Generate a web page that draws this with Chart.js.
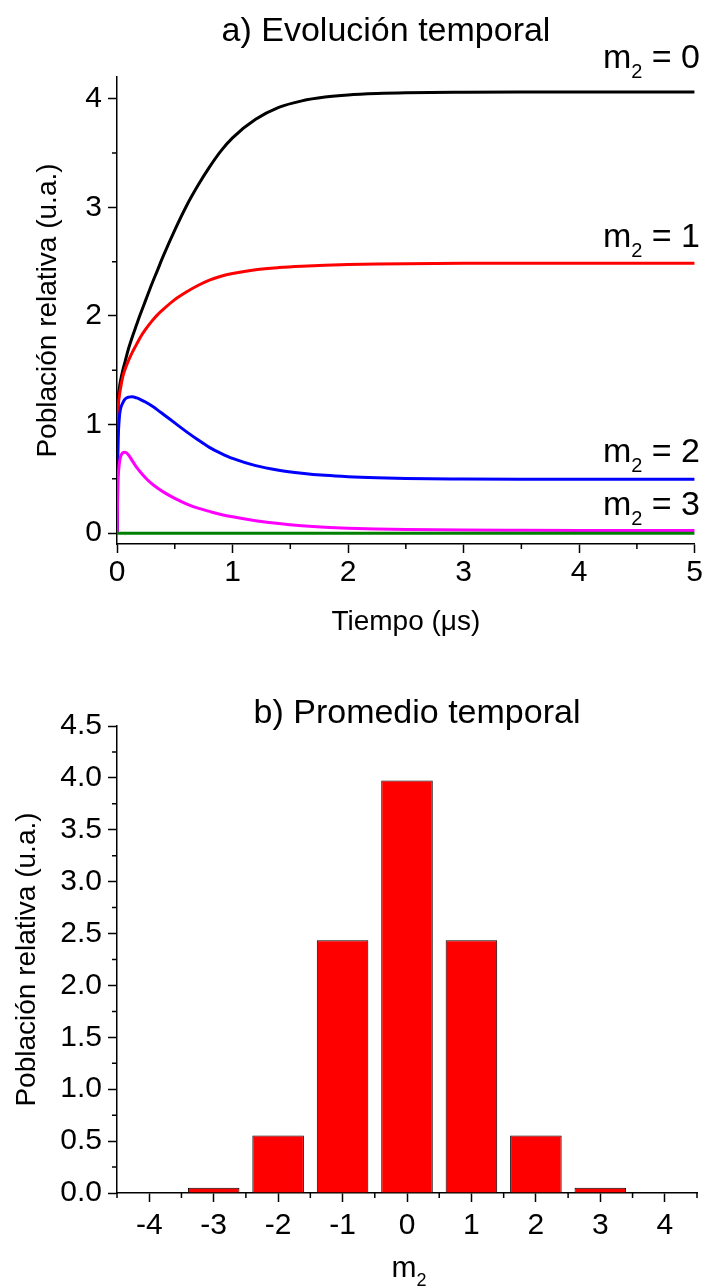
<!DOCTYPE html>
<html>
<head>
<meta charset="utf-8">
<script src="https://cdn.jsdelivr.net/npm/chart.js@4"></script>
<style>
  html, body { margin: 0; padding: 0; background: #fff; }
  #wrap { position: relative; width: 705px; height: 1288px; }
  canvas { position: absolute; left: 0; }
  #evolucion { top: 0; }
  #promedio { top: 660px; }
</style>
</head>
<body>
<div id="wrap">
  <canvas id="evolucion" width="705" height="660"></canvas>
  <canvas id="promedio" width="705" height="628"></canvas>
</div>
<script>
// --- a) evolución temporal: tiempo en µs y población de cada m2 ---
const tiempo = [0, 0.005, 0.01, 0.02, 0.03, 0.05, 0.07, 0.1, 0.13, 0.17,
                0.2, 0.25, 0.3, 0.35, 0.4, 0.5, 0.6, 0.7, 0.8, 0.9,
                1.0, 1.2, 1.4, 1.6, 1.8, 2.0, 2.25, 2.5, 3.0, 3.5,
                4.0, 4.5, 5.0];
const pobM0 = [0, 0.85, 1.2, 1.33, 1.4, 1.5, 1.58, 1.7, 1.8, 1.92,
               2.01, 2.15, 2.29, 2.42, 2.55, 2.79, 3.01, 3.2, 3.37, 3.52,
               3.64, 3.81, 3.92, 3.98, 4.015, 4.035, 4.048, 4.055, 4.06, 4.062,
               4.062, 4.062, 4.062];
const pobM1 = [0, 0.8, 1.12, 1.26, 1.33, 1.44, 1.51, 1.59, 1.66, 1.74,
               1.8, 1.88, 1.95, 2.01, 2.06, 2.15, 2.22, 2.28, 2.33, 2.365,
               2.39, 2.425, 2.445, 2.458, 2.467, 2.473, 2.478, 2.481, 2.484, 2.485,
               2.485, 2.485, 2.485];
const pobM2 = [0, 0.55, 0.85, 1.06, 1.14, 1.2, 1.235, 1.252, 1.255, 1.245,
               1.232, 1.205, 1.172, 1.135, 1.095, 1.015, 0.935, 0.86, 0.79, 0.735,
               0.688, 0.622, 0.58, 0.552, 0.532, 0.519, 0.509, 0.503, 0.499, 0.497,
               0.497, 0.497, 0.497];
const pobM3 = [0, 0.3, 0.5, 0.64, 0.7, 0.74, 0.745, 0.72, 0.67, 0.605,
               0.565, 0.505, 0.455, 0.415, 0.38, 0.32, 0.27, 0.23, 0.2, 0.172,
               0.15, 0.115, 0.088, 0.068, 0.054, 0.045, 0.038, 0.033, 0.028, 0.026,
               0.025, 0.025, 0.025];
const pobM4 = [0, 0, 0, 0, 0, 0, 0, 0, 0, 0,
               0, 0, 0, 0, 0, 0, 0, 0, 0, 0,
               0, 0, 0, 0, 0, 0, 0, 0, 0, 0,
               0, 0, 0];
const ticksTiempo = [0, 1, 2, 3, 4, 5];
const ticksPobA = [0, 1, 2, 3, 4];

// --- b) promedio temporal ---
const valoresM2 = ['-4', '-3', '-2', '-1', '0', '1', '2', '3', '4'];
const promedio = [0, 0.05, 0.555, 2.435, 3.975, 2.435, 0.555, 0.05, 0];
const ticksPobB = [0, 0.5, 1, 1.5, 2, 2.5, 3, 3.5, 4, 4.5];

const FAMILIA = '"Liberation Sans", Arial, sans-serif';
const F_TICK = 30, F_EJE = 28, F_TITULO = 34, F_M2 = 34;

Chart.defaults.font.family = FAMILIA;
Chart.defaults.color = '#000';

function puntos(ys) {
  return tiempo.map((t, i) => ({ x: t, y: ys[i] }));
}

// "m" con subíndice 2 seguido del resto del texto
function dibujaM2(ctx, x, y, resto, align, size) {
  const fBase = size + 'px ' + FAMILIA;
  const fSub = Math.round(size * 0.6) + 'px ' + FAMILIA;
  ctx.font = fBase;
  const wm = ctx.measureText('m').width;
  const wr = resto ? ctx.measureText(resto).width : 0;
  ctx.font = fSub;
  const ws = ctx.measureText('2').width;
  const total = wm + ws + wr;
  const x0 = align === 'right' ? x - total : align === 'center' ? x - total / 2 : x;
  ctx.textAlign = 'left';
  ctx.textBaseline = 'alphabetic';
  ctx.font = fBase;
  ctx.fillText('m', x0, y);
  ctx.font = fSub;
  ctx.fillText('2', x0 + wm, y + size * 0.3);
  ctx.font = fBase;
  if (resto) ctx.fillText(resto, x0 + wm + ws, y);
}

// marcas menores de los ejes
const marcasMenores = {
  id: 'marcasMenores',
  afterDraw(chart, args, opts) {
    const { ctx, chartArea } = chart;
    ctx.save();
    ctx.strokeStyle = '#000';
    ctx.lineWidth = 1.5;
    ctx.beginPath();
    (opts.x || []).forEach(v => {
      const px = chart.scales.x.getPixelForValue(v);
      ctx.moveTo(px, chartArea.bottom);
      ctx.lineTo(px, chartArea.bottom + opts.largo);
    });
    (opts.y || []).forEach(v => {
      const py = chart.scales.y.getPixelForValue(v);
      ctx.moveTo(chartArea.left, py);
      ctx.lineTo(chartArea.left - opts.largo, py);
    });
    ctx.stroke();
    ctx.restore();
  }
};

// título del panel y rótulos m2
const rotulos = {
  id: 'rotulos',
  afterDraw(chart, args, opts) {
    const ctx = chart.ctx;
    ctx.save();
    ctx.fillStyle = '#000';
    if (opts.titulo) {
      ctx.font = F_TITULO + 'px ' + FAMILIA;
      ctx.textAlign = 'center';
      ctx.textBaseline = 'alphabetic';
      ctx.fillText(opts.titulo.texto, opts.titulo.x, opts.titulo.y);
    }
    (opts.m2 || []).forEach(e => dibujaM2(ctx, e.x, e.y, e.resto, e.align, e.size || F_M2));
    ctx.restore();
  }
};

function ejeBase(extra) {
  return Object.assign({
    grid: { display: true, drawOnChartArea: false, drawTicks: true, tickLength: 9, tickWidth: 1.5, tickColor: '#000' },
    border: { display: true, color: '#000', width: 1.5 },
  }, extra);
}

new Chart(document.getElementById('evolucion'), {
  type: 'line',
  data: {
    datasets: [
      { label: 'm2 = 4', data: puntos(pobM4), borderColor: '#008000' },
      { label: 'm2 = 3', data: puntos(pobM3), borderColor: '#ff00ff' },
      { label: 'm2 = 2', data: puntos(pobM2), borderColor: '#0000ff' },
      { label: 'm2 = 1', data: puntos(pobM1), borderColor: '#ff0000' },
      { label: 'm2 = 0', data: puntos(pobM0), borderColor: '#000000' },
    ]
  },
  options: {
    responsive: false,
    animation: false,
    layout: { padding: { top: 77, right: 8, left: 0, bottom: 0 } },
    elements: {
      line: { borderWidth: 3, cubicInterpolationMode: 'monotone', fill: false },
      point: { radius: 0 }
    },
    scales: {
      x: ejeBase({
        type: 'linear', min: 0, max: 5,
        afterFit: s => { s.height = 116; },
        afterBuildTicks: s => { s.ticks = ticksTiempo.map(v => ({ value: v })); },
        ticks: { font: { size: F_TICK }, padding: 2, maxRotation: 0 },
        title: { display: true, text: 'Tiempo (μs)', font: { size: F_EJE }, padding: { top: 0, bottom: 21 } }
      }),
      y: ejeBase({
        type: 'linear', min: -0.1, max: 4.2,
        afterFit: s => { s.width = 117; },
        afterBuildTicks: s => { s.ticks = ticksPobA.map(v => ({ value: v })); },
        ticks: { font: { size: F_TICK }, padding: 6 },
        title: { display: true, text: 'Población relativa (u.a.)', font: { size: F_EJE }, padding: { top: 31, bottom: 0 } }
      })
    },
    plugins: {
      legend: { display: false },
      tooltip: { enabled: false },
      marcasMenores: { largo: 5, x: [0.5, 1.5, 2.5, 3.5, 4.5], y: [0.5, 1.5, 2.5, 3.5] },
      rotulos: {
        titulo: { texto: 'a) Evolución temporal', x: 386, y: 41 },
        m2: [
          { x: 700, y: 68, resto: ' = 0', align: 'right' },
          { x: 700, y: 247, resto: ' = 1', align: 'right' },
          { x: 700, y: 462, resto: ' = 2', align: 'right' },
          { x: 700, y: 515, resto: ' = 3', align: 'right' }
        ]
      }
    }
  },
  plugins: [marcasMenores, rotulos]
});

new Chart(document.getElementById('promedio'), {
  type: 'bar',
  data: {
    labels: valoresM2,
    datasets: [{
      data: promedio,
      backgroundColor: '#ff0000',
      borderColor: '#000000',
      borderWidth: 1,
      barPercentage: 0.8,
      categoryPercentage: 1.0
    }]
  },
  options: {
    responsive: false,
    animation: false,
    layout: { padding: { top: 66, right: 8, left: 0, bottom: 0 } },
    scales: {
      x: ejeBase({
        type: 'category', offset: true,
        afterFit: s => { s.height = 95; },
        grid: { display: true, offset: false, drawOnChartArea: false, drawTicks: true, tickLength: 9, tickWidth: 1.5, tickColor: '#000' },
        ticks: { font: { size: F_TICK }, padding: 6, maxRotation: 0 }
      }),
      y: ejeBase({
        type: 'linear', min: 0, max: 4.5,
        afterFit: s => { s.width = 117; },
        afterBuildTicks: s => { s.ticks = ticksPobB.map(v => ({ value: v })); },
        ticks: { font: { size: F_TICK }, padding: 6, callback: v => v.toFixed(1) },
        title: { display: true, text: 'Población relativa (u.a.)', font: { size: F_EJE }, padding: { top: 10, bottom: 0 } }
      })
    },
    plugins: {
      legend: { display: false },
      tooltip: { enabled: false },
      marcasMenores: {
        largo: 5,
        x: [-0.5, 0.5, 1.5, 2.5, 3.5, 4.5, 5.5, 6.5, 7.5, 8.5],
        y: [0.25, 0.75, 1.25, 1.75, 2.25, 2.75, 3.25, 3.75, 4.25]
      },
      rotulos: {
        titulo: { texto: 'b) Promedio temporal', x: 417, y: 63 },
        m2: [{ x: 409, y: 617, resto: '', align: 'center', size: 30 }]
      }
    }
  },
  plugins: [marcasMenores, rotulos]
});
</script>
</body>
</html>
